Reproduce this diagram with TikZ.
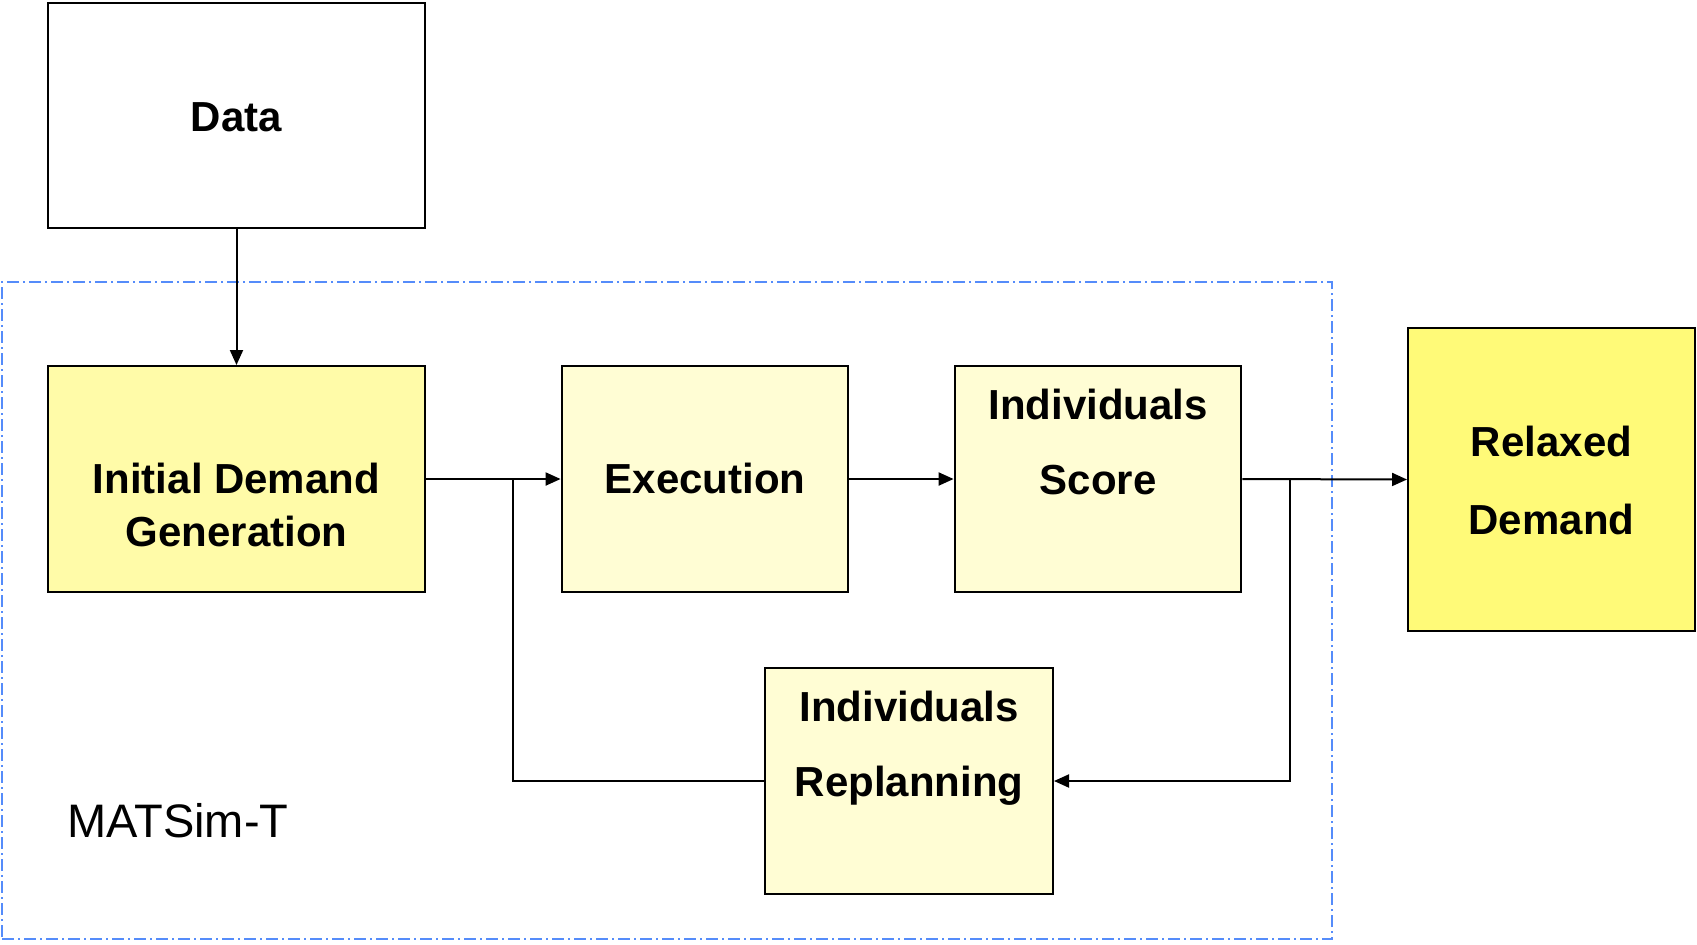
\documentclass[tikz,border=0pt]{standalone}
\usepackage{fontspec}
\setmainfont{Liberation Sans}
\usetikzlibrary{arrows.meta}
\definecolor{idgfill}{RGB}{255,251,168}
\definecolor{palefill}{RGB}{255,253,212}
\definecolor{relaxfill}{RGB}{255,250,120}
\definecolor{framecol}{RGB}{85,140,250}
\tikzset{
  stagebox/.style={draw=black, line width=1pt, inner sep=0pt},
  lbl/.style={anchor=base, inner sep=0pt, font=\fontsize{21}{25}\selectfont\bfseries},
  flow/.style={line width=1pt, -{Triangle[length=7.5pt,width=6.5pt]}},
  plain/.style={line width=1pt},
  frame/.style={draw=framecol, line width=0.7pt, dash pattern=on 6pt off 2pt on 1pt off 2pt, inner sep=0pt}
}
\begin{document}
\begin{tikzpicture}[x=0.5pt, y=-0.5pt]
\useasboundingbox (0,0) rectangle (1697,944);

% MATSim-T boundary
\node[frame, minimum width=665pt, minimum height=328.5pt] (matsim) at (667,610.5) {};
\node[anchor=base west, inner sep=0pt, font=\fontsize{23.5}{28}\selectfont] (matsimT) at (67,837.5) {MATSim-T};

% stage boxes
\node[stagebox, fill=white, minimum width=188.9pt, minimum height=112.6pt] (data) at (236.5,115.8) {};
\node[stagebox, fill=idgfill, minimum width=188.9pt, minimum height=113pt] (idg) at (236.5,479) {};
\node[stagebox, fill=palefill, minimum width=143.4pt, minimum height=113pt] (exec) at (705,479) {};
\node[stagebox, fill=palefill, minimum width=143.4pt, minimum height=113pt] (score) at (1098,479) {};
\node[stagebox, fill=relaxfill, minimum width=143.5pt, minimum height=151.5pt] (relax) at (1551.5,479.5) {};
\node[stagebox, fill=palefill, minimum width=144pt, minimum height=113pt] (replan) at (909,781) {};

% labels
\node[lbl] (dataT) at (236.5,131) {Data};
\node[lbl] (idgT1) at (236.5,493.5) {Initial Demand};
\node[lbl] (idgT2) at (236.5,546.5) {Generation};
\node[lbl] (execT) at (705,493.5) {Execution};
\node[lbl] (scoreT1) at (1098,419) {Individuals};
\node[lbl] (scoreT2) at (1098,494.5) {Score};
\node[lbl] (relaxT1) at (1551.5,456.5) {Relaxed};
\node[lbl] (relaxT2) at (1551.5,534.5) {Demand};
\node[lbl] (replanT1) at (909,721) {Individuals};
\node[lbl] (replanT2) at (909,796.5) {Replanning};

% junctions of the feedback loop
\coordinate (j1) at (513,479);
\coordinate (j2) at (1290,479);

% connectors
\draw[flow] (data.south) -- (idg.north);
\draw[flow] (idg.east) -- (exec.west);
\draw[flow] (exec.east) -- (score.west);
\draw[flow] (score.east) -- (relax.west);
\draw[plain] (replan.west) -| (j1);
\draw[flow] (j2) |- (replan.east);
\end{tikzpicture}
\end{document}
